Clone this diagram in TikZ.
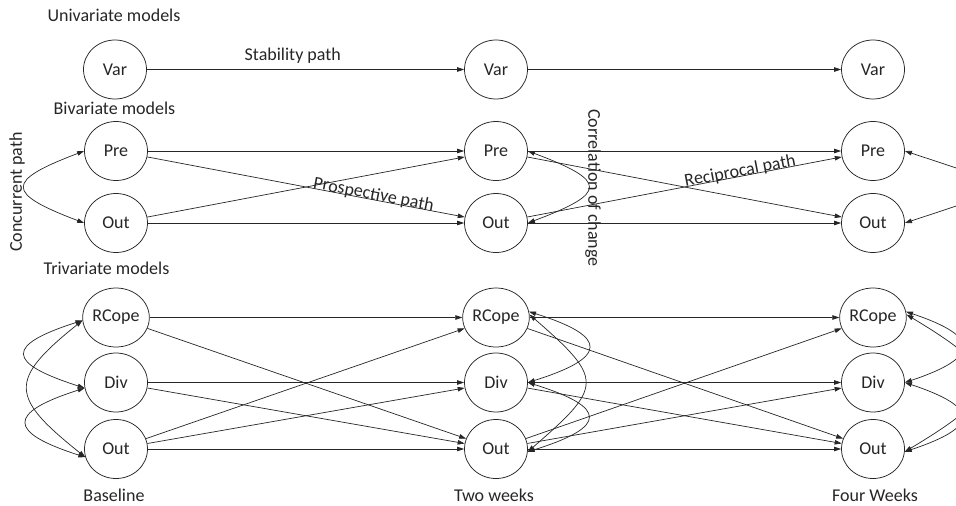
\documentclass[tikz,border=0pt]{standalone}
\usepackage{fontspec}
\setmainfont{Carlito}
\usetikzlibrary{shapes.geometric,arrows.meta}
\begin{document}
\begin{tikzpicture}[x=1pt,y=-1pt,
  every node/.style={font=\fontsize{18}{21}\selectfont, text=black!85},
  var/.style={draw=black!85, ellipse, minimum width=63pt, minimum height=59pt, inner sep=0pt, line width=0.75pt},
  arr/.style={-{Triangle[length=7pt,width=4.5pt]}, line width=0.7pt, draw=black!85},
  dbl/.style={{Triangle[length=7pt,width=4.5pt]}-{Triangle[length=7pt,width=4.5pt]}, line width=0.7pt, draw=black!85},
  lbl/.style={inner sep=0pt}]
\useasboundingbox (0,0) rectangle (956,506);
\clip (0,0) rectangle (956,506);
% Univariate
\node[lbl] (tuni) at (114,15) {Univariate models};
\node[var] (v0) at (115,69.5) {Var};
\node[var] (v1) at (496,69.5) {Var};
\node[var] (v2) at (873,69.5) {Var};
\draw[arr] (v0) -- node[lbl, pos=0.46, above=6pt] (tstab) {Stability path} (v1);
\draw[arr] (v1) -- (v2);
% Bivariate
\node[lbl] (tbi) at (114.5,108) {Bivariate models};
\node[var] (p0) at (116,151) {Pre};
\node[var] (o0) at (116,223) {Out};
\node[var] (p1) at (496,151) {Pre};
\node[var] (o1) at (496,223) {Out};
\node[var] (p2) at (873,151) {Pre};
\node[var] (o2) at (873,223) {Out};
\draw[arr] (p0) -- (p1);
\draw[arr] (p0) -- node[lbl, sloped, anchor=base, pos=0.71] (tpro) {Prospective path} (o1);
\draw[arr] (o0) -- (p1);
\draw[arr] (o0) -- (o1);
\draw[arr] (p1) -- (p2);
\draw[arr] (p1) -- (o2);
\draw[arr] (o1) -- node[lbl, sloped, anchor=base, pos=0.68] (trec) {Reciprocal path} (p2);
\draw[arr] (o1) -- (o2);
\draw[dbl] (p0.west) .. controls +(-79,30) and +(-79,-30) .. (o0.west);
\node[lbl, rotate=90] (tcon) at (17,192) {Concurrent path};
\draw[dbl] (p1.east) .. controls +(80,30) and +(80,-30) .. (o1.east);
\node[lbl, rotate=-90] (tcor) at (593,188) {Correlation of change};
\draw[dbl] (p2.east) .. controls +(115,38) and +(115,-38) .. (o2.east);
% Trivariate
\node[lbl] (ttri) at (106.5,268) {Trivariate models};
\node[var] (r0) at (116,317.5) {RCope};
\node[var] (d0) at (116,382.5) {Div};
\node[var] (u0) at (116,449) {Out};
\node[var] (r1) at (496,317.5) {RCope};
\node[var] (d1) at (496,382.5) {Div};
\node[var] (u1) at (496,449) {Out};
\node[var] (r2) at (873,317.5) {RCope};
\node[var] (d2) at (873,382.5) {Div};
\node[var] (u2) at (873,449) {Out};
\draw[arr] (r0) -- (r1);
\draw[arr] (r0) -- (u1);
\draw[arr] (d0) -- (d1);
\draw[arr] (d0) -- (u1);
\draw[arr] (u0) -- (r1);
\draw[arr] (u0) -- (d1);
\draw[arr] (u0) -- (u1);
\draw[arr] (r1) -- (r2);
\draw[arr] (r1) -- (u2);
\draw[arr] (d1) -- (d2);
\draw[arr] (d1) -- (u2);
\draw[arr] (u1) -- (r2);
\draw[arr] (u1) -- (d2);
\draw[arr] (u1) -- (u2);
\draw[dbl] (r0.185) .. controls +(-78,25) and +(-78,-25) .. (d0.190);
\draw[dbl] (r0.185) .. controls +(-75,60) and +(-75,-60) .. (u0.195);
\draw[dbl] (d0.190) .. controls +(-78,25) and +(-78,-25) .. (u0.195);
\draw[dbl] (r1.10) .. controls +(80,25) and +(80,-25) .. (d1.0);
\draw[dbl] (r1.5) .. controls +(75,65) and +(75,-65) .. (u1.-5);
\draw[dbl] (d1.0) .. controls +(80,25) and +(80,-25) .. (u1.-5);
\draw[dbl] (r2.10) .. controls +(75,25) and +(75,-25) .. (d2.0);
\draw[dbl] (r2.5) .. controls +(100,60) and +(100,-60) .. (u2.-5);
\draw[dbl] (d2.0) .. controls +(75,25) and +(75,-25) .. (u2.-5);
% Time labels
\node[lbl] (tbase) at (114,495) {Baseline};
\node[lbl] (ttwo) at (494,495) {Two weeks};
\node[lbl] (tfour) at (875,495) {Four Weeks};
\end{tikzpicture}
\end{document}
